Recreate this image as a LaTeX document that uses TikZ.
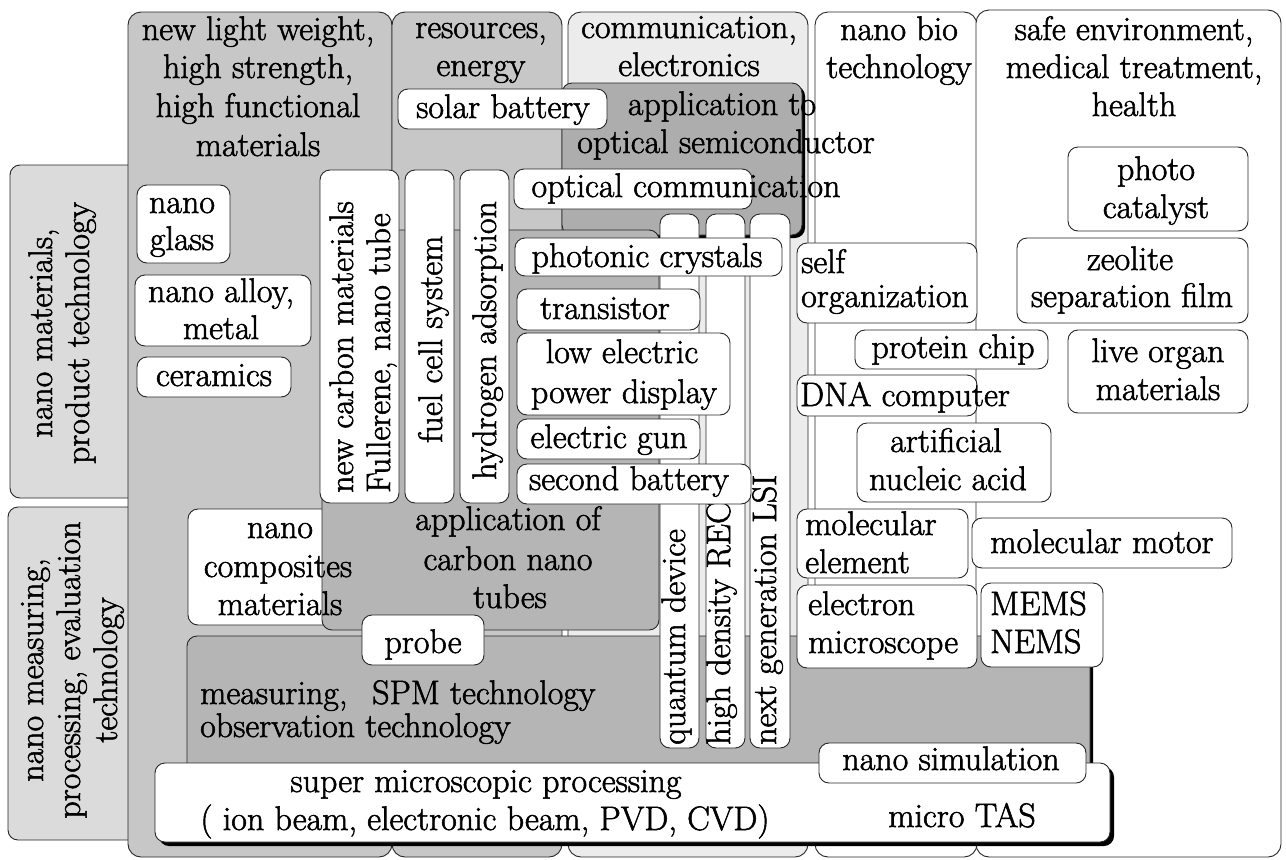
\documentclass[tikz,border=0pt]{standalone}
\usepackage{fontspec}
\setmainfont{Latin Modern Roman}[FakeBold=1.6]
\begin{document}
\begin{tikzpicture}[x=1pt,y=-1pt,
  bx/.style={draw=black!85, line width=0.9pt, rounded corners=10pt, fill=white},
  light/.style={bx, fill=gray!28},
  mid/.style={bx, fill=gray!44},
  pale/.style={bx, fill=gray!15},
  dark/.style={bx, fill=gray!58},
  shadow/.style={fill=black, rounded corners=10pt},
  txt/.style={font=\fontsize{34}{38}\selectfont, inner sep=0pt, anchor=base},
  txl/.style={txt, anchor=base west},
  vtx/.style={txt, rotate=90},
  vtl/.style={txt, rotate=90, anchor=base west}]
\useasboundingbox (0,0) rectangle (1286,860);
\fill[white] (0,0) rectangle (1286,860);
% left side boxes
\path[light] (10,165) rectangle (140,498);
\path[light] (8,507) rectangle (140,840);
% columns
\path[mid, rounded corners=13pt] (128,12) rectangle (392,857);
\path[mid, rounded corners=13pt] (392,12) rectangle (562,857);
\path[pale, rounded corners=13pt] (568,12) rectangle (808,857);
\path[bx, rounded corners=13pt] (815,12) rectangle (977,857);
\path[bx, rounded corners=13pt] (976,10) rectangle (1281,857);
% boxes lying under the dark areas
\path[bx] (188,509) rectangle (370,625);
% dark areas
\fill[shadow] (565,86) rectangle (805,238);
\path[dark, fill=gray!64] (562,83) rectangle (802,235);
\path[dark] (322,230) rectangle (659,630);
\fill[shadow] (190,639) rectangle (1093,790);
\path[dark] (187,636) rectangle (1090,790);
% vertical boxes
\path[bx] (320,170) rectangle (399,503);
\path[bx] (405,170) rectangle (454,503);
\path[bx] (460,170) rectangle (509,503);
\path[bx] (660,214) rectangle (699,748);
\path[bx] (706,214) rectangle (745,748);
\path[bx] (750,214) rectangle (790,748);
\node[vtl] (vnc1) at (353,493) {new carbon materials};
\node[vtl] (vnc2) at (390,493) {Fullerene, nano tube};
\node[vtl] (vfc) at (442,443) {fuel cell system};
\node[vtl] (vhy) at (496,480) {hydrogen adsorption};
\node[vtl] (vqd) at (685,745) {quantum device};
\node[vtl] (vhd) at (730,745) {high density REC};
\node[vtl] (vng) at (776,745) {next generation LSI};
% white boxes
\path[bx] (398,89) rectangle (607,129);
\path[bx] (514,169) rectangle (752,209);
\path[bx] (515,238) rectangle (782,276);
\path[bx] (517,289) rectangle (700,330);
\path[bx] (517,333) rectangle (730,415);
\path[bx] (517,419) rectangle (700,459);
\path[bx] (517,464) rectangle (751,504);
\path[bx] (137,185) rectangle (230,263);
\path[bx] (135,275) rectangle (311,346);
\path[bx] (137,357) rectangle (291,397);
\path[bx] (362,615) rectangle (484,665);
\path[bx] (797,243) rectangle (977,323);
\path[bx] (855,330) rectangle (1048,369);
\path[bx] (797,375) rectangle (977,416);
\path[bx] (857,423) rectangle (1051,502);
\path[bx] (797,509) rectangle (968,578);
\path[bx] (972,518) rectangle (1232,568);
\path[bx] (797,585) rectangle (977,668);
\path[bx] (981,583) rectangle (1103,667);
\path[bx] (1068,147) rectangle (1248,231);
\path[bx] (1017,238) rectangle (1248,323);
\path[bx] (1068,330) rectangle (1248,413);
\fill[shadow] (159,767) rectangle (1114,846);
\path[bx] (155,763) rectangle (1110,842);
\path[bx] (819,743) rectangle (1086,783);
% rotated side labels
\node[vtx] (lm1) at (52,333) {nano materials,};
\node[vtx] (lm2) at (89,333) {product technology};
\node[vtx] (lp1) at (43,670) {nano measuring,};
\node[vtx] (lp2) at (80,670) {processing, evaluation};
\node[vtx] (lp3) at (117,670) {technology};
% column headers
\node[txt] (ha1) at (258,40) {new light weight,};
\node[txt] (ha2) at (258,78) {high strength,};
\node[txt] (ha3) at (258,117) {high functional};
\node[txt] (ha4) at (258,156) {materials};
\node[txt] (hb1) at (481,38) {resources,};
\node[txt] (hb2) at (481,76) {energy};
\node[txt] (hc1) at (689,38) {communication,};
\node[txt] (hc2) at (689,76) {electronics};
\node[txt] (hd1) at (899,40) {nano bio};
\node[txt] (hd2) at (899,78) {technology};
\node[txt] (he1) at (1134,40) {safe environment,};
\node[txt] (he2) at (1134,78) {medical treatment,};
\node[txt] (he3) at (1134,116) {health};
% inner labels
\node[txt] (sol) at (503,118) {solar battery};
\node[txt] (os1) at (722,115) {application to};
\node[txt] (os2) at (726,153) {optical semiconductor};
\node[txt] (ocm) at (686,197) {optical communication};
\node[txt] (pho) at (647,267) {photonic crystals};
\node[txt] (tra) at (605,319) {transistor};
\node[txt] (le1) at (622,363) {low electric};
\node[txt] (le2) at (624,403) {power display};
\node[txt] (egu) at (609,448) {electric gun};
\node[txt] (sba) at (629,490) {second battery};
\node[txt] (ng1) at (182,213) {nano};
\node[txt] (ng2) at (182,250) {glass};
\node[txt] (na1) at (221,302) {nano alloy,};
\node[txt] (na2) at (221,339) {metal};
\node[txt] (cer) at (214,386) {ceramics};
\node[txt] (nc1) at (280,538) {nano};
\node[txt] (nc2) at (278,577) {composites};
\node[txt] (nc3) at (280,615) {materials};
\node[txt] (ac1) at (508,530) {application of};
\node[txt] (ac2) at (508,570) {carbon nano};
\node[txt] (ac3) at (510,608) {tubes};
\node[txt] (prb) at (423,653) {probe};
\node[txl] (me1) at (200,704) {measuring,};
\node[txl] (spm) at (372,704) {SPM technology};
\node[txl] (me2) at (200,737) {observation technology};
\node[txt] (su1) at (486,792) {super microscopic processing};
\node[txt] (su2) at (485,830) {( ion beam, electronic beam, PVD, CVD)};
\node[txt] (tas) at (962,827) {micro TAS};
\node[txt] (sim) at (951,770) {nano simulation};
\node[txl] (so1) at (801,273) {self};
\node[txl] (so2) at (801,307) {organization};
\node[txt] (prc) at (953,358) {protein chip};
\node[txl] (dna) at (800,406) {DNA computer};
\node[txt] (ar1) at (946,452) {artificial};
\node[txt] (ar2) at (948,490) {nucleic acid};
\node[txl] (mo1) at (805,535) {molecular};
\node[txl] (mo2) at (805,573) {element};
\node[txt] (mmo) at (1102,553) {molecular motor};
\node[txl] (el1) at (808,615) {electron};
\node[txl] (el2) at (808,653) {microscope};
\node[txl] (mm1) at (990,615) {MEMS};
\node[txl] (mm2) at (990,653) {NEMS};
\node[txt] (pc1) at (1156,180) {photo};
\node[txt] (pc2) at (1156,218) {catalyst};
\node[txt] (ze1) at (1130,270) {zeolite};
\node[txt] (ze2) at (1132,307) {separation film};
\node[txt] (lo1) at (1158,362) {live organ};
\node[txt] (lo2) at (1158,400) {materials};
\end{tikzpicture}
\end{document}
